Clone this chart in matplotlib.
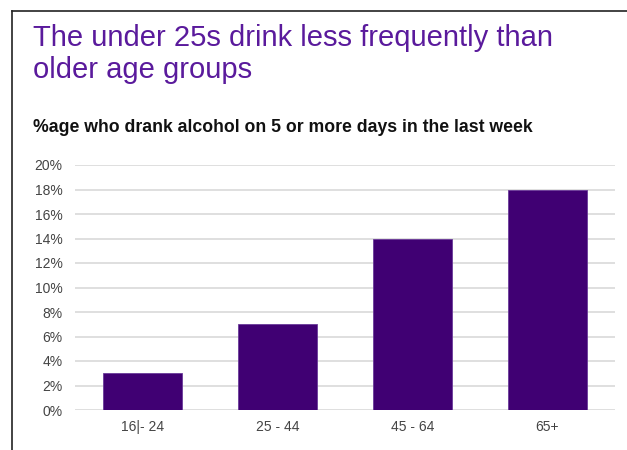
import numpy as np
import matplotlib
matplotlib.use("Agg")
from matplotlib import pyplot as plt
from matplotlib.ticker import FuncFormatter

plt.rcParams['font.family'] = ['Liberation Sans', 'DejaVu Sans']

groups = ["16|- 24", "25 - 44", "45 - 64", "65+"]
pct = [3, 7, 14, 18]
yticks = [0, 2, 4, 6, 8, 10, 12, 14, 16, 18, 20]

fig = plt.figure(figsize=(6.27, 4.5), dpi=100)

# frame lines on left and top like the screenshot
fig.add_artist(plt.Line2D([12/627, 12/627], [0, 1 - 11/450], color="#222222", lw=1.2))
fig.add_artist(plt.Line2D([12/627, 1], [1 - 11/450, 1 - 11/450], color="#222222", lw=1.2))

fig.text(33/627, 1 - 46/450, "The under 25s drink less frequently than",
         fontsize=21, color="#5A1A9C", va="baseline")
fig.text(33/627, 1 - 78/450, "older age groups",
         fontsize=21, color="#5A1A9C", va="baseline")
fig.text(33/627, 1 - 132/450, "%age who drank alcohol on 5 or more days in the last week",
         fontsize=12.7, fontweight="bold", color="#111111", va="baseline")

ax = fig.add_axes([75/627, 1 - 410/450, 540/627, 245/450])
x = np.arange(len(groups))
ax.bar(x, pct, width=0.585, color="#400073", edgecolor="#6a3a99", linewidth=0.6, zorder=3)
ax.set_xlim(-0.5, len(groups) - 0.5)
ax.set_ylim(0, 20)
ax.set_yticks(yticks)
ax.yaxis.set_major_formatter(FuncFormatter(lambda v, p: "%d%%" % v))
ax.set_xticks(x)
ax.set_xticklabels(groups)
ax.grid(axis="y", color="#d9d9d9", lw=1.2, zorder=0)
for s in ax.spines.values():
    s.set_visible(False)
ax.tick_params(length=0, labelsize=10, labelcolor="#444444")
ax.tick_params(axis="y", pad=9)
ax.tick_params(axis="x", pad=7)

fig.savefig("out.png", dpi=100)
